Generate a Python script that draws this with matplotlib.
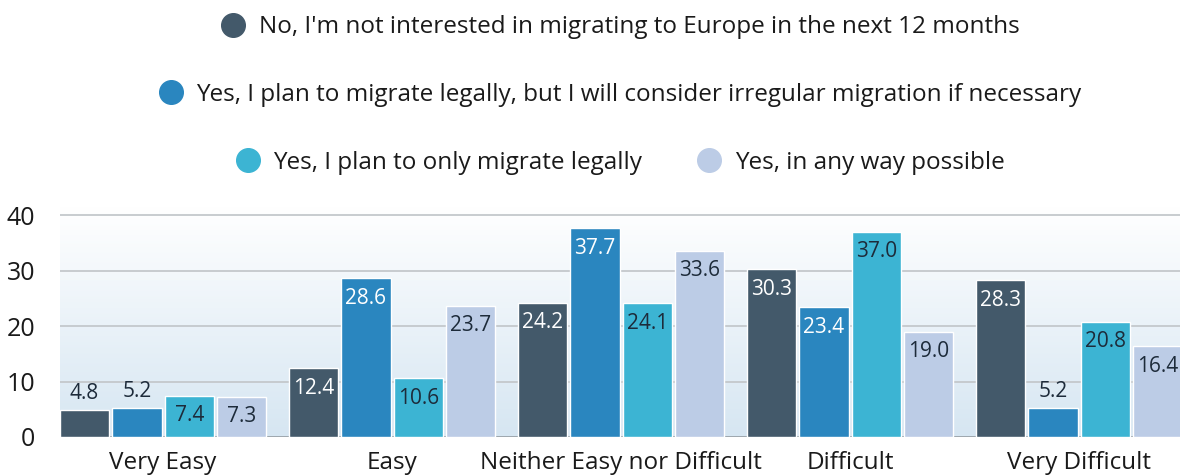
import matplotlib.pyplot as plt
import numpy as np
from matplotlib.colors import LinearSegmentedColormap
from matplotlib.lines import Line2D

plt.rcParams["font.family"] = ["Open Sans", "DejaVu Sans"]

categories = ["Very Easy", "Easy", "Neither Easy nor Difficult", "Difficult", "Very Difficult"]
series_names = [
    "No, I'm not interested in migrating to Europe in the next 12 months",
    "Yes, I plan to migrate legally, but I will consider irregular migration if necessary",
    "Yes, I plan to only migrate legally",
    "Yes, in any way possible",
]
not_interested = [4.8, 12.4, 24.2, 30.3, 28.3]
legal_maybe_irregular = [5.2, 28.6, 37.7, 23.4, 5.2]
only_legal = [7.4, 10.6, 24.1, 37.0, 20.8]
any_way = [7.3, 23.7, 33.6, 19.0, 16.4]

colors = ["#43596a", "#2a86bf", "#3cb4d3", "#bccce6"]
label_colors = ["white", "white", "#1d2b3a", "#1d2b3a"]
series = [not_interested, legal_maybe_irregular, only_legal, any_way]

fig = plt.figure(figsize=(11.8, 4.75), dpi=100)
ax = fig.add_axes([60 / 1180, 38 / 475, 1 - 60 / 1180, 230 / 475])

x = np.arange(len(categories))
step = 0.2285
width = 0.215
ymax = 41.5
xlo, xhi = -0.45, 4.44

# soft vertical gradient behind the bars
grad = np.linspace(0, 1, 256).reshape(-1, 1)
cmap = LinearSegmentedColormap.from_list("bg", ["#d6e6f2", "#ffffff"])
ax.imshow(grad, extent=[xlo, xhi + 1, 0, ymax], origin="lower", aspect="auto",
          cmap=cmap, zorder=0)

for yv in [10, 20, 30, 40]:
    ax.axhline(yv, color="#c4c8cc", lw=1.3, zorder=1)
ax.axhline(0, color="#9aa2a8", lw=1.3, zorder=1)

for j, vals in enumerate(series):
    pos = x + (j - 1.5) * step
    ax.bar(pos, vals, width=width, color=colors[j], edgecolor="white",
           linewidth=1.0, zorder=3)
    for xp, v in zip(pos, vals):
        if v < 6:
            ax.text(xp, v + 3.0, f"{v:.1f}", ha="center", va="center",
                    fontsize=15, color="#1d2b3a", zorder=4)
        else:
            ax.text(xp, v - 3.6, f"{v:.1f}", ha="center", va="center",
                    fontsize=15, color=label_colors[j], zorder=4)

ax.set_xlim(xlo, xhi)
ax.set_ylim(0, ymax)
ax.set_yticks([0, 10, 20, 30, 40])
ax.set_xticks(x)
ax.set_xticklabels(categories)
ax.tick_params(axis="y", length=0, pad=18, labelsize=18, labelcolor="#1a1a1a")
ax.tick_params(axis="x", length=0, pad=10, labelsize=17.5, labelcolor="#1a1a1a")
for s in ax.spines.values():
    s.set_visible(False)

# legend laid out in three centred rows
def handle(c):
    return Line2D([], [], marker="o", linestyle="", markersize=17, color=c)

rows = [([0], 0.943), ([1], 0.800), ([2, 3], 0.657)]
for idx, yf in rows:
    leg = fig.legend([handle(colors[i]) for i in idx], [series_names[i] for i in idx],
                     loc="center", bbox_to_anchor=(0.525, yf), ncol=len(idx),
                     frameon=False, fontsize=17.5, handletextpad=0.5,
                     columnspacing=2.2, handlelength=1.1)
    for t in leg.get_texts():
        t.set_color("#1a1a1a")

fig.savefig("out.png", dpi=100)
